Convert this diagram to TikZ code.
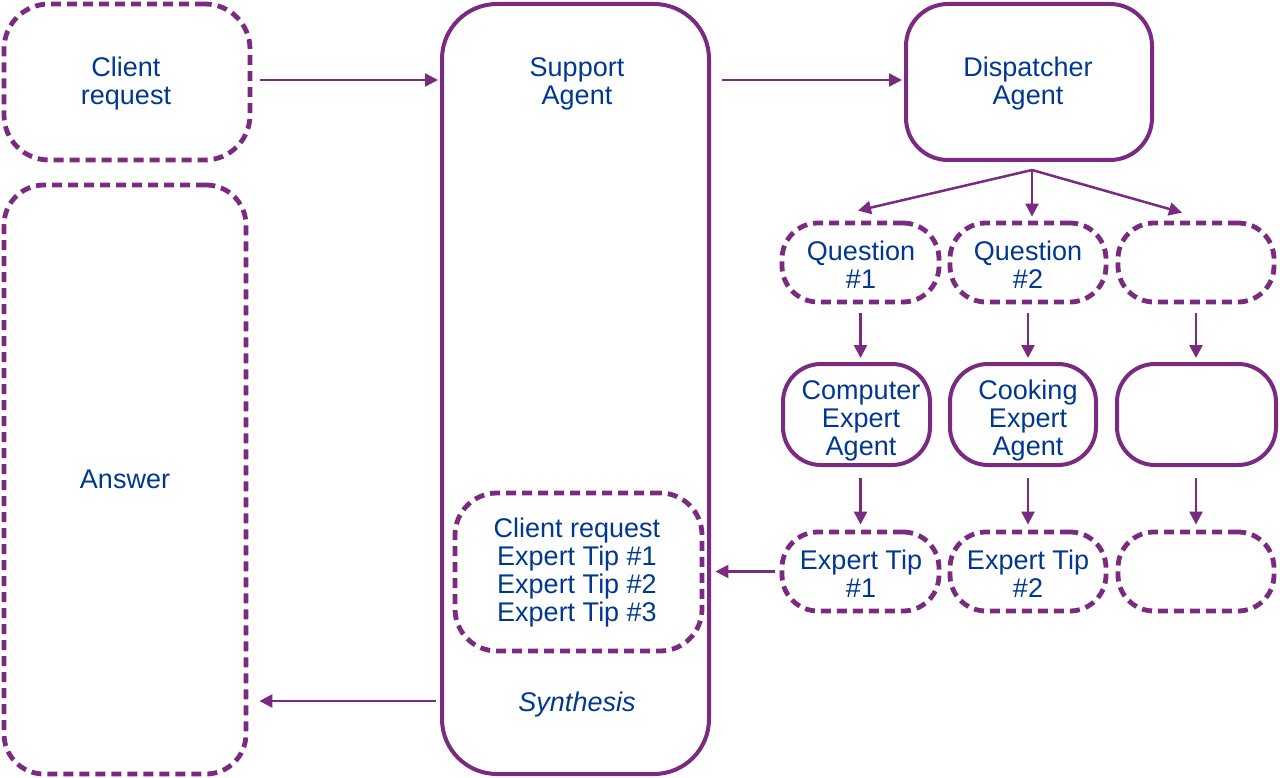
\documentclass[tikz,border=0pt]{standalone}
\usepackage{fontspec}
\setmainfont{Liberation Sans}
\usetikzlibrary{arrows.meta}
\definecolor{purp}{RGB}{122,42,128}
\definecolor{txt}{RGB}{0,56,145}
\tikzset{
  base/.style={draw=purp, rectangle, inner sep=0pt, align=center, text=txt,
    font=\fontsize{27}{28}\selectfont},
  dbox/.style={base, line width=4.8pt, dash pattern=on 10pt off 6pt},
  sbox/.style={base, line width=4pt},
  lbl/.style={text=txt, align=center, inner sep=0pt, font=\fontsize{27}{28}\selectfont},
  arr/.style={draw=purp, line width=2.5pt, -{Triangle[length=13pt,width=13pt]}},
}
\begin{document}
\begin{tikzpicture}[x=1pt,y=-1pt]
\useasboundingbox (0,0) rectangle (1280,778);
% left column
\node[dbox, minimum width=246, minimum height=156, rounded corners=45pt] (client) at (127,82) {};
\node[lbl] (clienttext) at (126,84) {Client\\request};
\node[dbox, minimum width=242, minimum height=589, rounded corners=40pt] (answer) at (125,479.5) {Answer};
% support agent
\node[sbox, minimum width=267, minimum height=770, rounded corners=55pt] (support) at (575.5,389) {};
\node[lbl] (supporttext) at (577,84) {Support\\Agent};
\node[dbox, minimum width=247, minimum height=158, rounded corners=42pt] (inner) at (578.5,572) {};
\node[lbl] (innertext) at (577,573) {Client request\\Expert Tip \#1\\Expert Tip \#2\\Expert Tip \#3};
\node[lbl, font=\fontsize{27}{28}\selectfont\itshape] (synth) at (577,705) {Synthesis};
% dispatcher
\node[sbox, minimum width=246, minimum height=156, rounded corners=42pt] (disp) at (1029,82) {};
\node[lbl] (disptext) at (1028,84) {Dispatcher\\Agent};
% questions
\node[dbox, minimum width=157, minimum height=79, rounded corners=36pt] (q1) at (860.5,262.5) {};
\node[lbl] (q1text) at (861,265) {Question\\\#1};
\node[dbox, minimum width=156, minimum height=79, rounded corners=36pt] (q2) at (1028,262.5) {};
\node[lbl] (q2text) at (1028,265) {Question\\\#2};
\node[dbox, minimum width=156, minimum height=79, rounded corners=36pt] (q3) at (1196,262.5) {};
% agents
\node[sbox, minimum width=147, minimum height=101, rounded corners=38pt] (a1) at (856.5,414.5) {};
\node[lbl] (a1text) at (861,421) {Computer\\Expert\\Agent};
\node[sbox, minimum width=146, minimum height=101, rounded corners=38pt] (a2) at (1023,414.5) {};
\node[lbl] (a2text) at (1028,421) {Cooking\\Expert\\Agent};
\node[sbox, minimum width=159, minimum height=101, rounded corners=38pt] (a3) at (1196.5,414.5) {};
% tips
\node[dbox, minimum width=157, minimum height=79, rounded corners=36pt] (t1) at (860.5,571.5) {};
\node[lbl] (t1text) at (861,574) {Expert Tip\\\#1};
\node[dbox, minimum width=156, minimum height=79, rounded corners=36pt] (t2) at (1028,571.5) {};
\node[lbl] (t2text) at (1028,574) {Expert Tip\\\#2};
\node[dbox, minimum width=156, minimum height=79, rounded corners=36pt] (t3) at (1196,571.5) {};
% connectors
\draw[arr, shorten <=8pt, shorten >=2pt] ([yshift=2pt]client.east) -- ([yshift=2pt]client.east -| support.west);
\draw[arr, shorten <=11pt, shorten >=2pt] ([yshift=2pt]disp.west -| support.east) -- ([yshift=2pt]disp.west);
\coordinate (fan) at ([xshift=3pt,yshift=-8pt]disp.south);
\coordinate (q1top) at ([xshift=-2.5pt,yshift=10pt]q1.north);
\coordinate (q2top) at ([xshift=4pt,yshift=4pt]q2.north);
\coordinate (q3top) at ([xshift=-14pt,yshift=8pt]q3.north);
\draw[arr] (fan) -- (q1top);
\draw[arr] (fan) -- (q2top);
\draw[arr] (fan) -- (q3top);
\draw[arr, shorten <=9pt, shorten >=4pt] (q1.south) -- (q1.south |- a1.north);
\draw[arr, shorten <=9pt, shorten >=4pt] (q2.south) -- (q2.south |- a2.north);
\draw[arr, shorten <=9pt, shorten >=4pt] (q3.south) -- (q3.south |- a3.north);
\draw[arr, shorten <=11pt, shorten >=5pt] (t1.north |- a1.south) -- (t1.north);
\draw[arr, shorten <=11pt, shorten >=5pt] (t2.north |- a2.south) -- (t2.north);
\draw[arr, shorten <=11pt, shorten >=5pt] (t3.north |- a3.south) -- (t3.north);
\draw[arr, shorten <=5pt, shorten >=11pt] (t1.west) -- (t1.west -| inner.east);
\coordinate (synthy) at ([yshift=4pt]synth.center);
\draw[arr, shorten <=4pt, shorten >=11pt] (synthy -| support.west) -- (synthy -| answer.east);
\end{tikzpicture}
\end{document}
